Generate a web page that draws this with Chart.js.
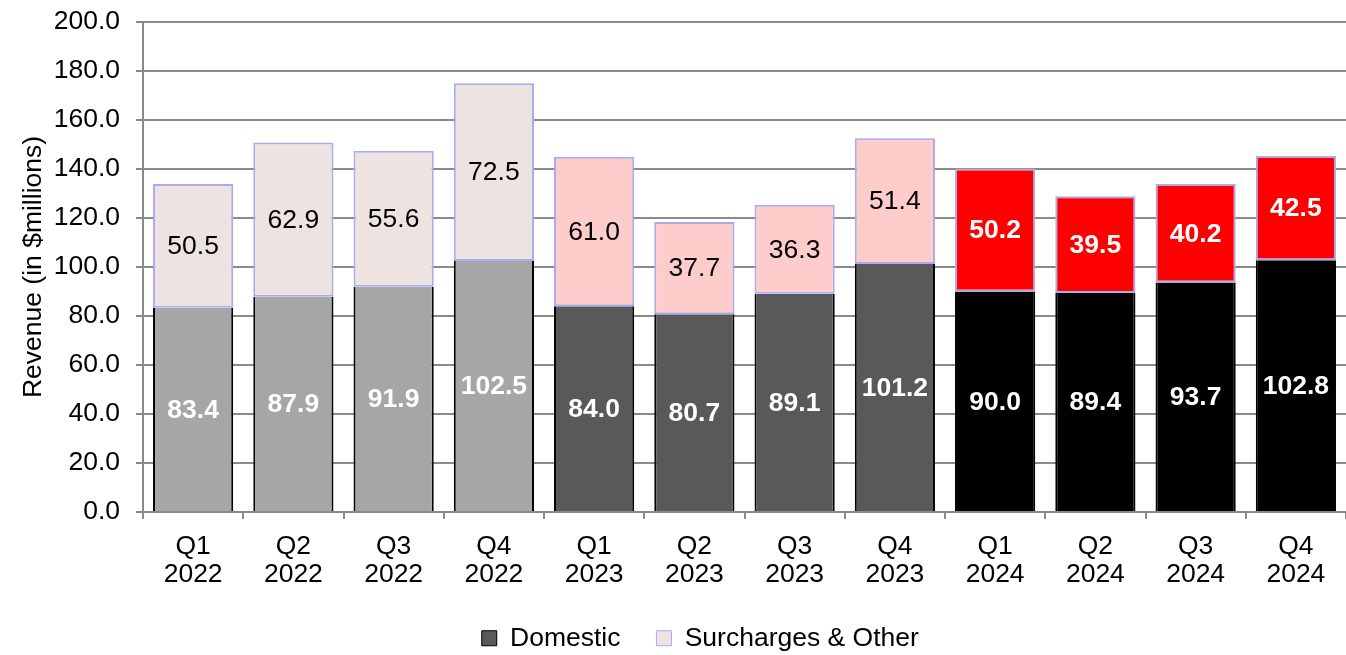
<!DOCTYPE html>
<html>
<head>
<meta charset="utf-8">
<script src="https://cdn.jsdelivr.net/npm/chart.js@4"></script>
<style>
  html, body { margin: 0; padding: 0; background: #fff; }
  #wrap { width: 1346px; height: 655px; }
</style>
</head>
<body>
<div id="wrap"><canvas id="revenueChart" width="1346" height="655"></canvas></div>
<script>
const quarters = ['Q1', 'Q2', 'Q3', 'Q4', 'Q1', 'Q2', 'Q3', 'Q4', 'Q1', 'Q2', 'Q3', 'Q4'];
const years = ['2022', '2022', '2022', '2022', '2023', '2023', '2023', '2023', '2024', '2024', '2024', '2024'];
const domestic = [83.4, 87.9, 91.9, 102.5, 84.0, 80.7, 89.1, 101.2, 90.0, 89.4, 93.7, 102.8];
const surcharges = [50.5, 62.9, 55.6, 72.5, 61.0, 37.7, 36.3, 51.4, 50.2, 39.5, 40.2, 42.5];
const yTicks = [0, 20, 40, 60, 80, 100, 120, 140, 160, 180, 200];

// colour by year
const domesticColors = { '2022': '#a6a6a6', '2023': '#595959', '2024': '#000000' };
const surchargeColors = { '2022': '#ede3e1', '2023': '#ffcccc', '2024': '#ff0000' };

const FONT = 'Liberation Sans, Arial, sans-serif';
const FS = 26.5;

const barLabels = {
  id: 'barLabels',
  afterDatasetsDraw(chart) {
    const ctx = chart.ctx;
    ctx.save();
    ctx.textAlign = 'center';
    ctx.textBaseline = 'middle';
    chart.data.datasets.forEach((ds, di) => {
      const meta = chart.getDatasetMeta(di);
      meta.data.forEach((bar, i) => {
        const white = di === 0 || years[i] === '2024';
        ctx.fillStyle = white ? '#ffffff' : '#000000';
        ctx.font = (white ? 'bold ' : '') + FS + 'px ' + FONT;
        ctx.fillText(ds.data[i].toFixed(1), bar.x, (bar.y + bar.base) / 2 + 1);
      });
    });
    ctx.restore();
  }
};

new Chart(document.getElementById('revenueChart'), {
  type: 'bar',
  data: {
    labels: quarters.map((q, i) => [q, years[i]]),
    datasets: [
      {
        label: 'Domestic',
        data: domestic,
        backgroundColor: years.map(y => domesticColors[y]),
        borderColor: '#000000',
        borderWidth: { left: 2, right: 2, top: 0, bottom: 0 },
        borderSkipped: false,
        categoryPercentage: 1,
        barPercentage: 0.8
      },
      {
        label: 'Surcharges & Other',
        data: surcharges,
        backgroundColor: years.map(y => surchargeColors[y]),
        borderColor: '#aaaaee',
        borderWidth: 2,
        borderSkipped: false,
        categoryPercentage: 1,
        barPercentage: 0.8
      }
    ]
  },
  options: {
    responsive: false,
    animation: false,
    layout: { padding: { left: 0, right: 0, top: 22, bottom: 0 } },
    scales: {
      x: {
        stacked: true,
        afterFit: axis => { axis.height = 77; },
        grid: { offset: true, drawOnChartArea: false, drawTicks: true, tickLength: 7, color: '#8a8a8a', lineWidth: 2 },
        border: { color: '#8a8a8a', width: 2 },
        ticks: { color: '#000', font: { family: FONT, size: FS, lineHeight: 1.06 }, padding: 14, maxRotation: 0 }
      },
      y: {
        stacked: true,
        min: 0,
        max: 200,
        afterBuildTicks: axis => { axis.ticks = yTicks.map(v => ({ value: v })); },
        afterFit: axis => { axis.width = 143; axis.paddingTop = 0; axis.paddingBottom = 0; },
        grid: { color: '#8a8a8a', lineWidth: 2, tickLength: 7 },
        border: { color: '#8a8a8a', width: 2 },
        ticks: { color: '#000', font: { family: FONT, size: FS }, padding: 16, callback: v => v.toFixed(1) },
        title: { display: true, text: 'Revenue (in $millions)', color: '#000', font: { family: FONT, size: FS }, padding: { top: 18, bottom: 0 } }
      }
    },
    plugins: {
      tooltip: { enabled: false },
      legend: {
        position: 'bottom',
        fullSize: false,
        maxHeight: 66,
        labels: {
          color: '#000',
          font: { family: FONT, size: FS },
          boxWidth: 15,
          boxHeight: 15,
          padding: 36,
          // trailing spaces only nudge the centred row to the left
          generateLabels: () => [
            { text: 'Domestic', fillStyle: '#595959', strokeStyle: '#000000', lineWidth: 1, datasetIndex: 0 },
            { text: 'Surcharges & Other            ', fillStyle: '#ede3e1', strokeStyle: '#aaaaee', lineWidth: 1, datasetIndex: 1 }
          ]
        }
      }
    }
  },
  plugins: [barLabels]
});
</script>
</body>
</html>
